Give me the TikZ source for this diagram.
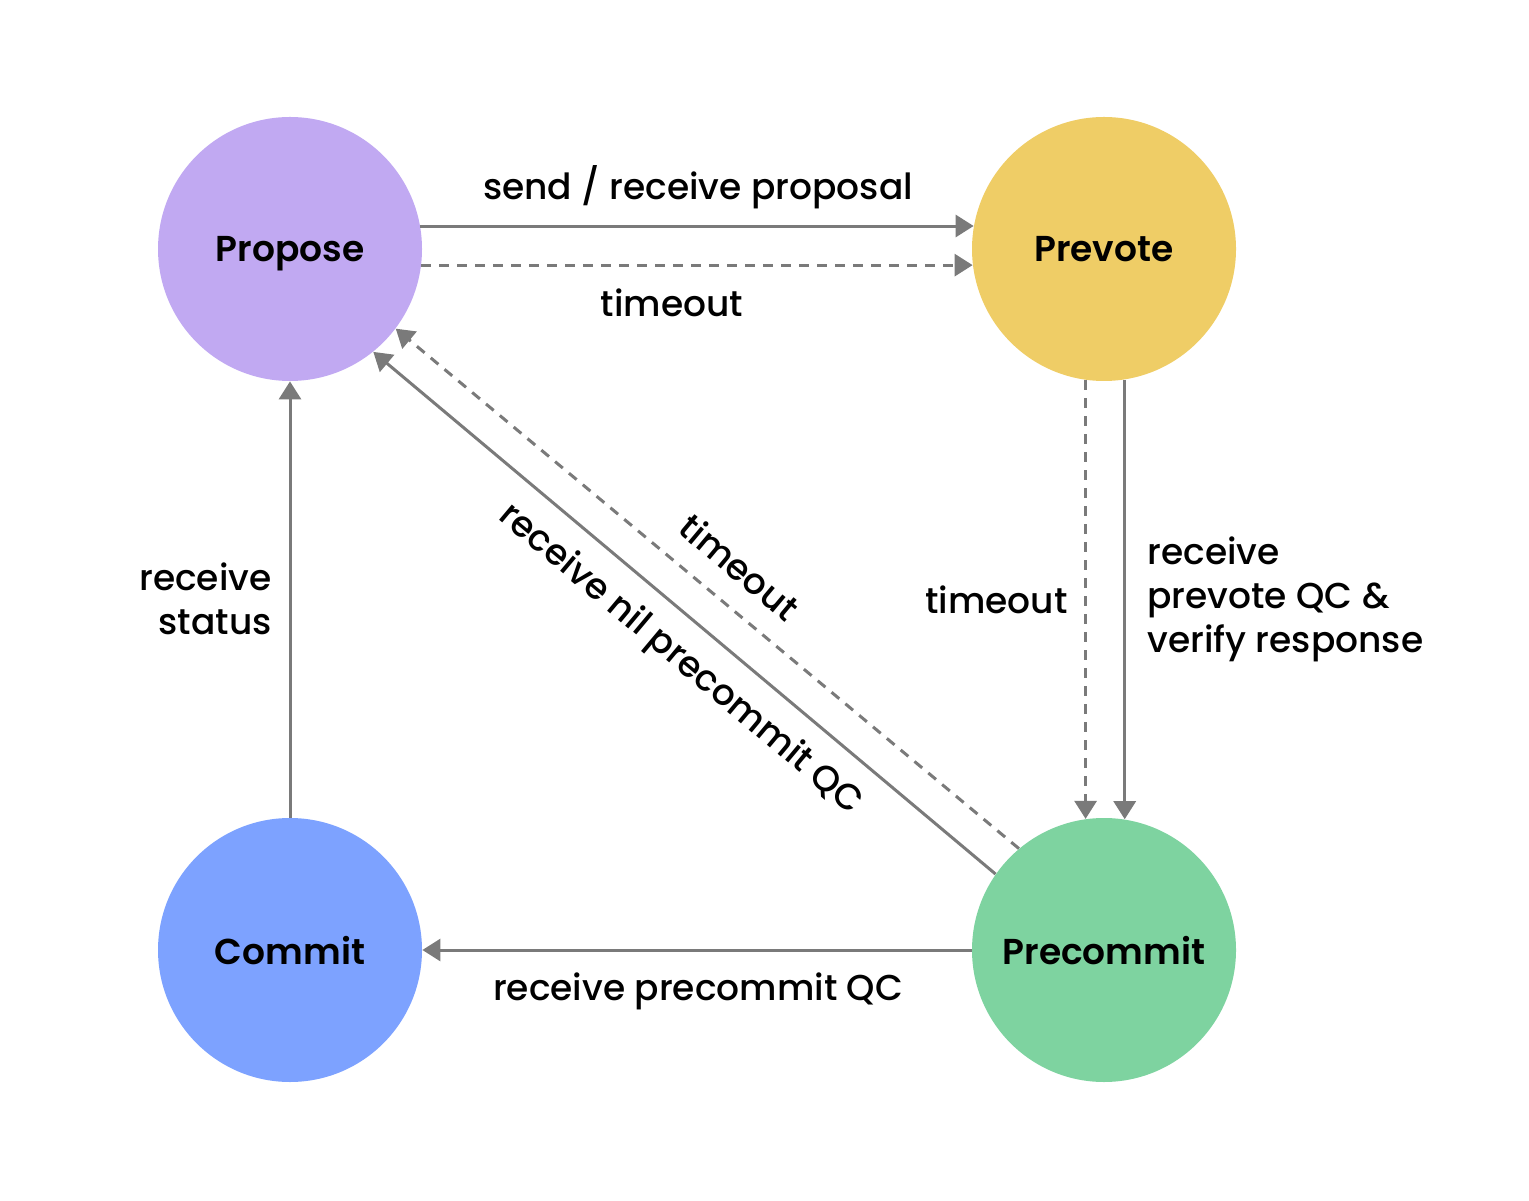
\documentclass[tikz,border=0pt]{standalone}
\usepackage{fontspec}
\setmainfont{Poppins}[UprightFont=* Medium, BoldFont=* SemiBold]
\usetikzlibrary{arrows.meta}
\usetikzlibrary{calc}
\definecolor{lgray}{HTML}{7A7A7A}
\definecolor{cpropose}{HTML}{C1A9F2}
\definecolor{cprevote}{HTML}{EFCD66}
\definecolor{ccommit}{HTML}{7DA2FF}
\definecolor{cprecommit}{HTML}{7ED3A0}
\tikzset{
 state/.style={circle, minimum size=132pt, inner sep=0, text depth=0pt, font=\fontsize{18}{22}\selectfont\bfseries},
 edge/.style={lgray, line width=1.5pt, -{Triangle[length=9pt, width=11pt]}},
 tmo/.style={edge, dash pattern=on 5pt off 4pt},
 lbl/.style={font=\fontsize{18}{22}\selectfont, inner sep=0}
}

\begin{document}
\begin{tikzpicture} [x=0.5pt, y=0.5pt]
\useasboundingbox (0,0) rectangle (1529,1200);
\node[state, fill=cpropose]   (propose)   at (290,951)  {Propose};
\node[state, fill=cprevote]   (prevote)   at (1104,951) {Prevote};
\node[state, fill=ccommit]    (commit)    at (290,250)  {Commit};
\node[state, fill=cprecommit] (precommit) at (1104,250) {Precommit};

% propose -> prevote
\draw[edge] (propose.10) -- (prevote.170);
\draw[tmo]  (propose.-7) -- (prevote.-173);
\node[lbl] (sendlbl) at (698,1013) {send / receive proposal};
\node[lbl] (tmolbla) at (672,897)  {timeout};

% prevote -> precommit
\draw[tmo]  (prevote.-98.7) -- (precommit.98.7);
\draw[edge] (prevote.-81.3) -- (precommit.81.3);
\node[lbl, anchor=east] (tmolblb) at (1068,600) {timeout};
\node[lbl, anchor=west, align=left] (pvlbl) at (1147,601) {receive\\prevote QC \&\\verify response};

% precommit -> propose
\draw[edge] (precommit.145.5) -- (propose.-51.6);
\draw[tmo]  (precommit.130) -- (propose.-37.4);
\node[lbl, rotate=-40] (tmolblc) at (740,633) {timeout};
\node[lbl, rotate=-40] (nillbl)  at (680,540) {receive nil precommit QC};

% precommit -> commit -> propose
\draw[edge] (precommit.west) -- (commit.east);
\node[lbl] (pclbl) at (698,209) {receive precommit QC};
\draw[edge] (commit.north) -- (propose.south);
\node[lbl, anchor=east, align=right] (stlbl) at (272,601) {receive\\status};
\end{tikzpicture}
\end{document}
